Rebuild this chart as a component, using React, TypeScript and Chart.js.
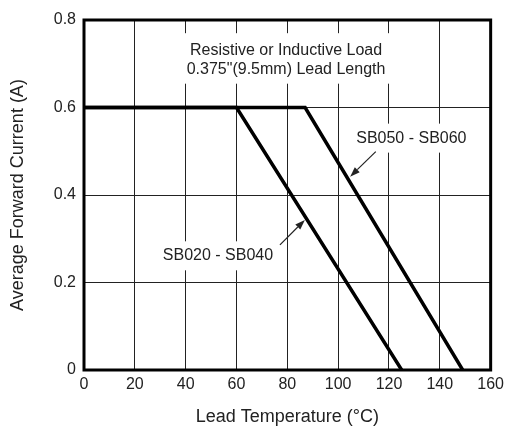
import React, { useEffect, useRef } from "react";
import { Chart, registerables } from "chart.js";

Chart.register(...registerables);

// ---- data ----
const xTickValues = [0, 20, 40, 60, 80, 100, 120, 140, 160];
const yTickValues = [0, 0.2, 0.4, 0.6, 0.8];
const yTickLabels = ["0", "0.2", "0.4", "0.6", "0.8"];

const tempSB020 = [0, 60, 125];
const currentSB020 = [0.6, 0.6, 0];
const tempSB050 = [0, 87, 149];
const currentSB050 = [0.6, 0.6, 0];

const xTitle = "Lead Temperature (°C)";
const yTitle = "Average Forward Current (A)";

const noteLines = ["Resistive or Inductive Load", '0.375"(9.5mm) Lead Length'];
const noteAt = [79.5, 0.731];

const seriesLabels = ["SB020 - SB040", "SB050 - SB060"];
const labelAt = [
  [52.7, 0.261],
  [128.8, 0.53],
];
const arrowFrom = [
  [77.1, 0.286],
  [114.8, 0.499],
];
const arrowTo = [
  [86.9, 0.343],
  [104.7, 0.442],
];

const FONT = '"Liberation Sans", Arial, Helvetica, sans-serif';
const TEXT = "#222";

const toPoints = (xs: number[], ys: number[]) => xs.map((x, i) => ({ x, y: ys[i] }));

const annotPlugin = {
  id: "annot",
  beforeDatasetsDraw(chart: any) {
    const { ctx, scales } = chart;
    const x = scales.x, y = scales.y;
    ctx.save();
    ctx.font = `16px ${FONT}`;
    ctx.textAlign = "center";
    ctx.textBaseline = "middle";
    // note box
    const nx = x.getPixelForValue(noteAt[0]);
    const ny = y.getPixelForValue(noteAt[1]);
    const lh = 19.5;
    const w = Math.max(...noteLines.map((t) => ctx.measureText(t).width));
    ctx.fillStyle = "#fff";
    ctx.fillRect(nx - w / 2 - 4, ny - 17, w + 8, lh * (noteLines.length - 1) + 31);
    ctx.fillStyle = TEXT;
    noteLines.forEach((t, i) => ctx.fillText(t, nx, ny + i * lh));
    // series labels
    seriesLabels.forEach((t, i) => {
      const lx = x.getPixelForValue(labelAt[i][0]);
      const ly = y.getPixelForValue(labelAt[i][1]);
      const tw = ctx.measureText(t).width;
      ctx.fillStyle = "#fff";
      ctx.fillRect(lx - tw / 2 - 4, ly - 14.5, tw + 8, 29);
      ctx.fillStyle = TEXT;
      ctx.fillText(t, lx, ly);
    });
    ctx.restore();
  },
  afterDatasetsDraw(chart: any) {
    const { ctx, scales, chartArea } = chart;
    const x = scales.x, y = scales.y;
    ctx.save();
    // arrows
    ctx.strokeStyle = "#222";
    ctx.fillStyle = "#222";
    ctx.lineWidth = 1.2;
    arrowFrom.forEach((f, i) => {
      const x1 = x.getPixelForValue(f[0]);
      const y1 = y.getPixelForValue(f[1]);
      const x2 = x.getPixelForValue(arrowTo[i][0]);
      const y2 = y.getPixelForValue(arrowTo[i][1]);
      const ang = Math.atan2(y2 - y1, x2 - x1);
      const L = 10, W = 3.5;
      const bx = x2 - L * Math.cos(ang);
      const by = y2 - L * Math.sin(ang);
      ctx.beginPath();
      ctx.moveTo(x1, y1);
      ctx.lineTo(bx, by);
      ctx.stroke();
      ctx.beginPath();
      ctx.moveTo(x2, y2);
      ctx.lineTo(bx + W * Math.sin(ang), by - W * Math.cos(ang));
      ctx.lineTo(bx - W * Math.sin(ang), by + W * Math.cos(ang));
      ctx.closePath();
      ctx.fill();
    });
    // frame
    ctx.strokeStyle = "#000";
    ctx.lineWidth = 3;
    ctx.strokeRect(
      chartArea.left,
      chartArea.top,
      chartArea.right - chartArea.left,
      chartArea.bottom - chartArea.top
    );
    ctx.restore();
  },
};

export default function App() {
  const ref = useRef<HTMLCanvasElement | null>(null);
  useEffect(() => {
    if (!ref.current) return;
    const chart = new Chart(ref.current, {
      type: "line",
      data: {
        datasets: [
          {
            label: seriesLabels[0],
            data: toPoints(tempSB020, currentSB020),
            borderColor: "#000",
            borderWidth: 3.5,
            pointRadius: 0,
            fill: false,
            tension: 0,
          },
          {
            label: seriesLabels[1],
            data: toPoints(tempSB050, currentSB050),
            borderColor: "#000",
            borderWidth: 3.5,
            pointRadius: 0,
            fill: false,
            tension: 0,
          },
        ],
      },
      options: {
        responsive: true,
        maintainAspectRatio: false,
        animation: false,
        events: [],
        layout: { padding: { top: 20, right: 15, left: 0, bottom: 0 } },
        plugins: {
          legend: { display: false },
          tooltip: { enabled: false },
        },
        scales: {
          x: {
            type: "linear",
            min: 0,
            max: 160,
            afterBuildTicks: (s: any) => {
              s.ticks = xTickValues.map((v) => ({ value: v }));
            },
            afterFit: (s: any) => {
              s.height = 60;
            },
            ticks: {
              color: TEXT,
              font: { family: FONT, size: 16 },
              padding: 5,
              maxRotation: 0,
              autoSkip: false,
            },
            grid: { color: "#222", lineWidth: 1, drawTicks: false },
            border: { display: false },
            title: {
              display: true,
              text: xTitle,
              color: TEXT,
              font: { family: FONT, size: 18 },
              padding: { top: 0, bottom: 2 },
            },
          },
          y: {
            type: "linear",
            min: 0,
            max: 0.8,
            afterBuildTicks: (s: any) => {
              s.ticks = yTickValues.map((v) => ({ value: v }));
            },
            afterFit: (s: any) => {
              s.width = 84;
            },
            ticks: {
              color: TEXT,
              font: { family: FONT, size: 16 },
              padding: 8,
              autoSkip: false,
              callback: (v: any) => {
                const i = yTickValues.findIndex((t) => Math.abs(t - Number(v)) < 1e-9);
                return i >= 0 ? yTickLabels[i] : "";
              },
            },
            grid: { color: "#222", lineWidth: 1, drawTicks: false },
            border: { display: false },
            title: {
              display: true,
              text: yTitle,
              color: TEXT,
              font: { family: FONT, size: 18 },
              padding: { top: 7.5, bottom: 0 },
            },
          },
        },
      },
      plugins: [annotPlugin],
    });
    return () => chart.destroy();
  }, []);
  return (
    <div style={{ position: "fixed", left: 0, top: 0, width: 509, height: 430, background: "#fff" }}>
      <canvas ref={ref} />
    </div>
  );
}
